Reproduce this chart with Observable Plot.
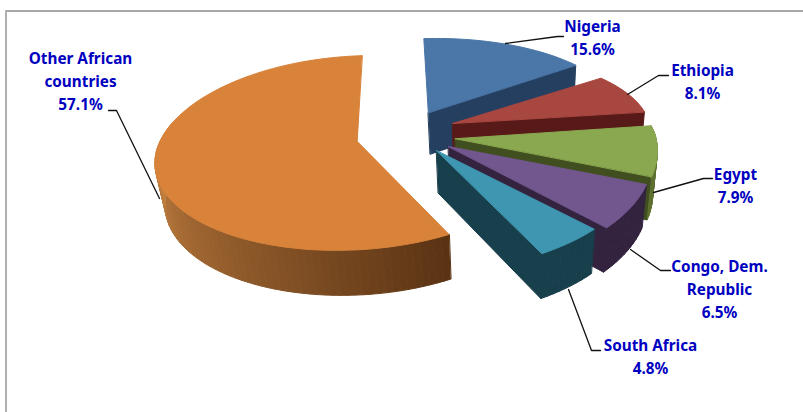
<!DOCTYPE html>
<html>
<head>
<meta charset="utf-8">
<style>html,body{margin:0;padding:0;background:#fff}svg{display:block}</style>
<script src="https://cdn.jsdelivr.net/npm/d3@7"></script>
<script src="https://cdn.jsdelivr.net/npm/@observablehq/plot@0.6"></script>
</head>
<body>
<div id="chart"></div>
<script>
// Shares of the population of Africa, clockwise from the top of the pie.
const countries = ["Nigeria", "Ethiopia", "Egypt", "Congo, Dem. Republic", "South Africa", "Other African countries"];
const shares = [15.6, 8.1, 7.9, 6.5, 4.8, 57.1];
const labelLines = [["Nigeria"], ["Ethiopia"], ["Egypt"], ["Congo, Dem.", "Republic"], ["South Africa"], ["Other African", "countries"]];

// Appearance of each slice: top face, front walls.
const topColors = ["#4a76a8", "#a8473f", "#8aa84f", "#72578f", "#3f96b0", "#d8823a"];
const wallColors = ["#243f5f", "#571a18", "#414f20", "#33233f", "#183f4c", "#5c3514"];
const rimColors = ["#243f5f", "#571a18", "#5e7030", "#33233f", "#183f4c", "#c27f40"];

// Where each exploded slice's tip sits on the pie's floor plane, and how far
// its rim reaches sideways, away from and towards the viewer (radius = 1).
const tips = [[-0.373, -0.40], [-0.244, -0.28], [-0.225, -0.12], [-0.257, -0.04], [-0.314, 0], [-0.71, -0.09]];
const reach = [1, 1, 1, 1, 1, 0.98];
const farReach = [0.92, 0.85, 0.9, 1, 1, 1];
const nearReach = [1, 1, 1.1, 1.08, 1.04, 0.97];
const startAngle = -4;

// Perspective view of the floor plane, looking down from the front.
const view = {cx: 500, cy: 150, ax: 204, ay: 100, persp: 0.135, depth: 44, sink: 0.03};
function project(x, y, lower) {
  const w = 1 - view.persp * y + (lower ? view.sink : 0);
  return [view.cx + view.ax * x / w, view.cy + (view.ay * y + (lower ? view.depth : 0)) / w];
}

const rad = (d) => d * Math.PI / 180;
function rimAt(i, deg) {
  const c = Math.cos(rad(deg));
  return [tips[i][0] + reach[i] * Math.sin(rad(deg)), tips[i][1] - c * (c > 0 ? farReach[i] : nearReach[i])];
}
const sweep = (a, b) => d3.range(0, 1.0001, 1 / Math.max(2, Math.ceil((b - a) / 2))).map((t) => a + (b - a) * t);

// Build every face as a closed ring, back to front, so later faces paint over earlier ones.
const faces = [];
function addFace(id, color, ring) {
  ring.forEach(([px, py]) => faces.push({id, color, px, py}));
}
let running = 0;
const slices = shares.map((share, i) => {
  const a0 = startAngle + running * 3.6;
  running += share;
  return {i, a0, a1: startAngle + running * 3.6};
});
const wallShade = d3.scaleLinear().domain([265, 150]).range(["#c58242", "#5a3313"]).clamp(true);

// The largest slice is drawn first; the rest stack from the far side to the near side.
for (const {i, a0, a1} of [slices[5], ...slices.slice(0, 5)]) {
  const tip = tips[i];
  const end = rimAt(i, a1);
  // Radial wall on the slice's clockwise edge.
  if (i !== 5) {
    addFace(`w${i}`, wallColors[i], [project(...tip), project(...end), project(...end, true), project(...tip, true)]);
  }
  // Outer wall, shaded in short strips.
  const angles = sweep(a0, a1).filter((d) => d > 80 && d < 285);
  d3.pairs(angles).forEach(([p, q], j) => {
    const P = rimAt(i, p), Q = rimAt(i, q);
    addFace(`r${i}-${j}`, i === 5 ? wallShade(p) : rimColors[i], [project(...P), project(...Q), project(...Q, true), project(...P, true)]);
  });
  // Top face.
  addFace(`t${i}`, topColors[i], [project(...tip), ...sweep(a0, a1).map((d) => project(...rimAt(i, d)))]);
}

// Label anchors and the bends of their leader lines.
const labelAnchors = [[592, 26], [702, 70], [735, 174], [719, 266], [650, 345], [80, 58]];
const leaders = [
  [[505, 43], [557, 36], [563, 36]],
  [[627, 94], [658, 75], [668, 75]],
  [[653, 192], [703, 178], [712, 178]],
  [[630, 249], [660, 270], [670, 270]],
  [[568, 289], [591, 350], [600, 350]],
  [[159, 198], [116, 110], [108, 110]]
];
const labels = countries.map((c, i) => ({
  x: labelAnchors[i][0],
  y: labelAnchors[i][1],
  text: [...labelLines[i], `${shares[i].toFixed(1)}%`].join("\n")
}));
const leaderPoints = leaders.flatMap((pts, i) => pts.map(([x, y]) => ({i, x, y})));
const frame = [[5.5, 412], [5.5, 10.5], [803, 10.5]].map(([x, y]) => ({x, y}));

const chart = Plot.plot({
  width: 803,
  height: 412,
  margin: 0,
  x: {domain: [0, 803], range: [0, 803], axis: null},
  y: {domain: [0, 412], range: [0, 412], axis: null},
  color: {type: "identity"},
  marks: [
    Plot.line(frame, {x: "x", y: "y", stroke: "#a8a8a8", strokeWidth: 1.8}),
    Plot.line(faces, {x: "px", y: "py", z: "id", fill: "color", stroke: "color", strokeWidth: 1, curve: "linear-closed"}),
    Plot.line(leaderPoints, {x: "x", y: "y", z: "i", stroke: "#111", strokeWidth: 1.3}),
    Plot.text(labels, {
      x: "x", y: "y", text: "text", fill: "#0000c0", fontFamily: "Noto Sans", fontWeight: 700, fontSize: 15.3,
      lineHeight: 1.5, lineAnchor: "top", textAnchor: "middle", dy: -11
    })
  ]
});
document.getElementById("chart").append(chart);
</script>
</body>
</html>
